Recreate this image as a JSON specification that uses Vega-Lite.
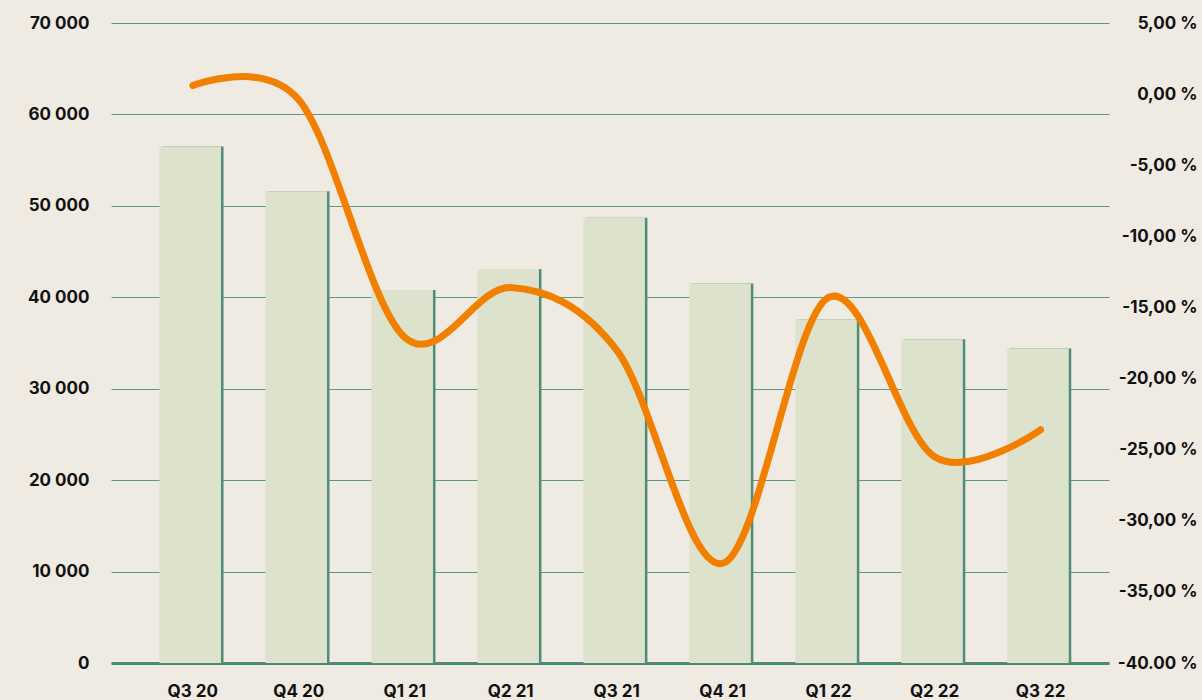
{
  "$schema": "https://vega.github.io/schema/vega-lite/v6.json",
  "width": 998,
  "height": 640,
  "autosize": {"type": "none"},
  "padding": {"left": 111, "top": 23, "right": 93, "bottom": 37},
  "background": "#efeae2",
  "config": {
    "view": {"stroke": null},
    "axis": {"labelFont": "Inter", "labelFontWeight": "bold", "labelFontSize": 17, "labelColor": "#111111", "titleFont": "Inter"}
  },
  "data": {
    "values": [
      {"q": "Q3 20", "v": 56500, "p": 0.6},
      {"q": "Q4 20", "v": 51600, "p": -0.4},
      {"q": "Q1 21", "v": 40800, "p": -17.1},
      {"q": "Q2 21", "v": 43100, "p": -13.6},
      {"q": "Q3 21", "v": 48700, "p": -18.0},
      {"q": "Q4 21", "v": 41500, "p": -33.0},
      {"q": "Q1 22", "v": 37600, "p": -14.3},
      {"q": "Q2 22", "v": 35400, "p": -25.5},
      {"q": "Q3 22", "v": 34400, "p": -23.6}
    ]
  },
  "encoding": {
    "x": {
      "field": "q", "type": "nominal", "sort": null,
      "scale": {"paddingInner": 0.42, "paddingOuter": 0.419, "align": 0.575},
      "axis": {"title": null, "labelAngle": 0, "ticks": false, "domain": true, "domainColor": "#4b8b77", "domainWidth": 3, "labelPadding": 20, "grid": false}
    }
  },
  "layer": [
    {
      "layer": [
        {"mark": {"type": "bar", "color": "#4f8c7a"}},
        {"mark": {"type": "bar", "color": "#dce2cb", "xOffset": -2.5}}
      ],
      "encoding": {
        "y": {
          "field": "v", "type": "quantitative",
          "scale": {"domain": [0, 70000]},
          "axis": {
            "title": null, "values": [0, 10000, 20000, 30000, 40000, 50000, 60000, 70000],
            "labelExpr": "replace(format(datum.value, ','), ',', ' ')",
            "ticks": false, "domain": false, "labelPadding": 22,
            "grid": true, "gridColor": "#5b9a86", "gridWidth": 1.2
          }
        }
      }
    },
    {
      "mark": {"type": "line", "color": "#f17f00", "strokeWidth": 7, "interpolate": "cardinal", "tension": 0, "strokeCap": "round"},
      "encoding": {
        "y": {
          "field": "p", "type": "quantitative",
          "scale": {"domain": [-40, 5]},
          "axis": {
            "orient": "right", "title": null,
            "values": [5, 0, -5, -10, -15, -20, -25, -30, -35, -40],
            "labelExpr": "datum.value == -40 ? '-40.00 %' : (datum.value < 0 ? '-' : '') + replace(format(abs(datum.value), '.2f'), '.', ',') + ' %'",
            "ticks": false, "domain": false, "grid": false,
            "labelAlign": "right", "labelPadding": 88
          }
        }
      }
    }
  ],
  "resolve": {"scale": {"y": "independent"}}
}
